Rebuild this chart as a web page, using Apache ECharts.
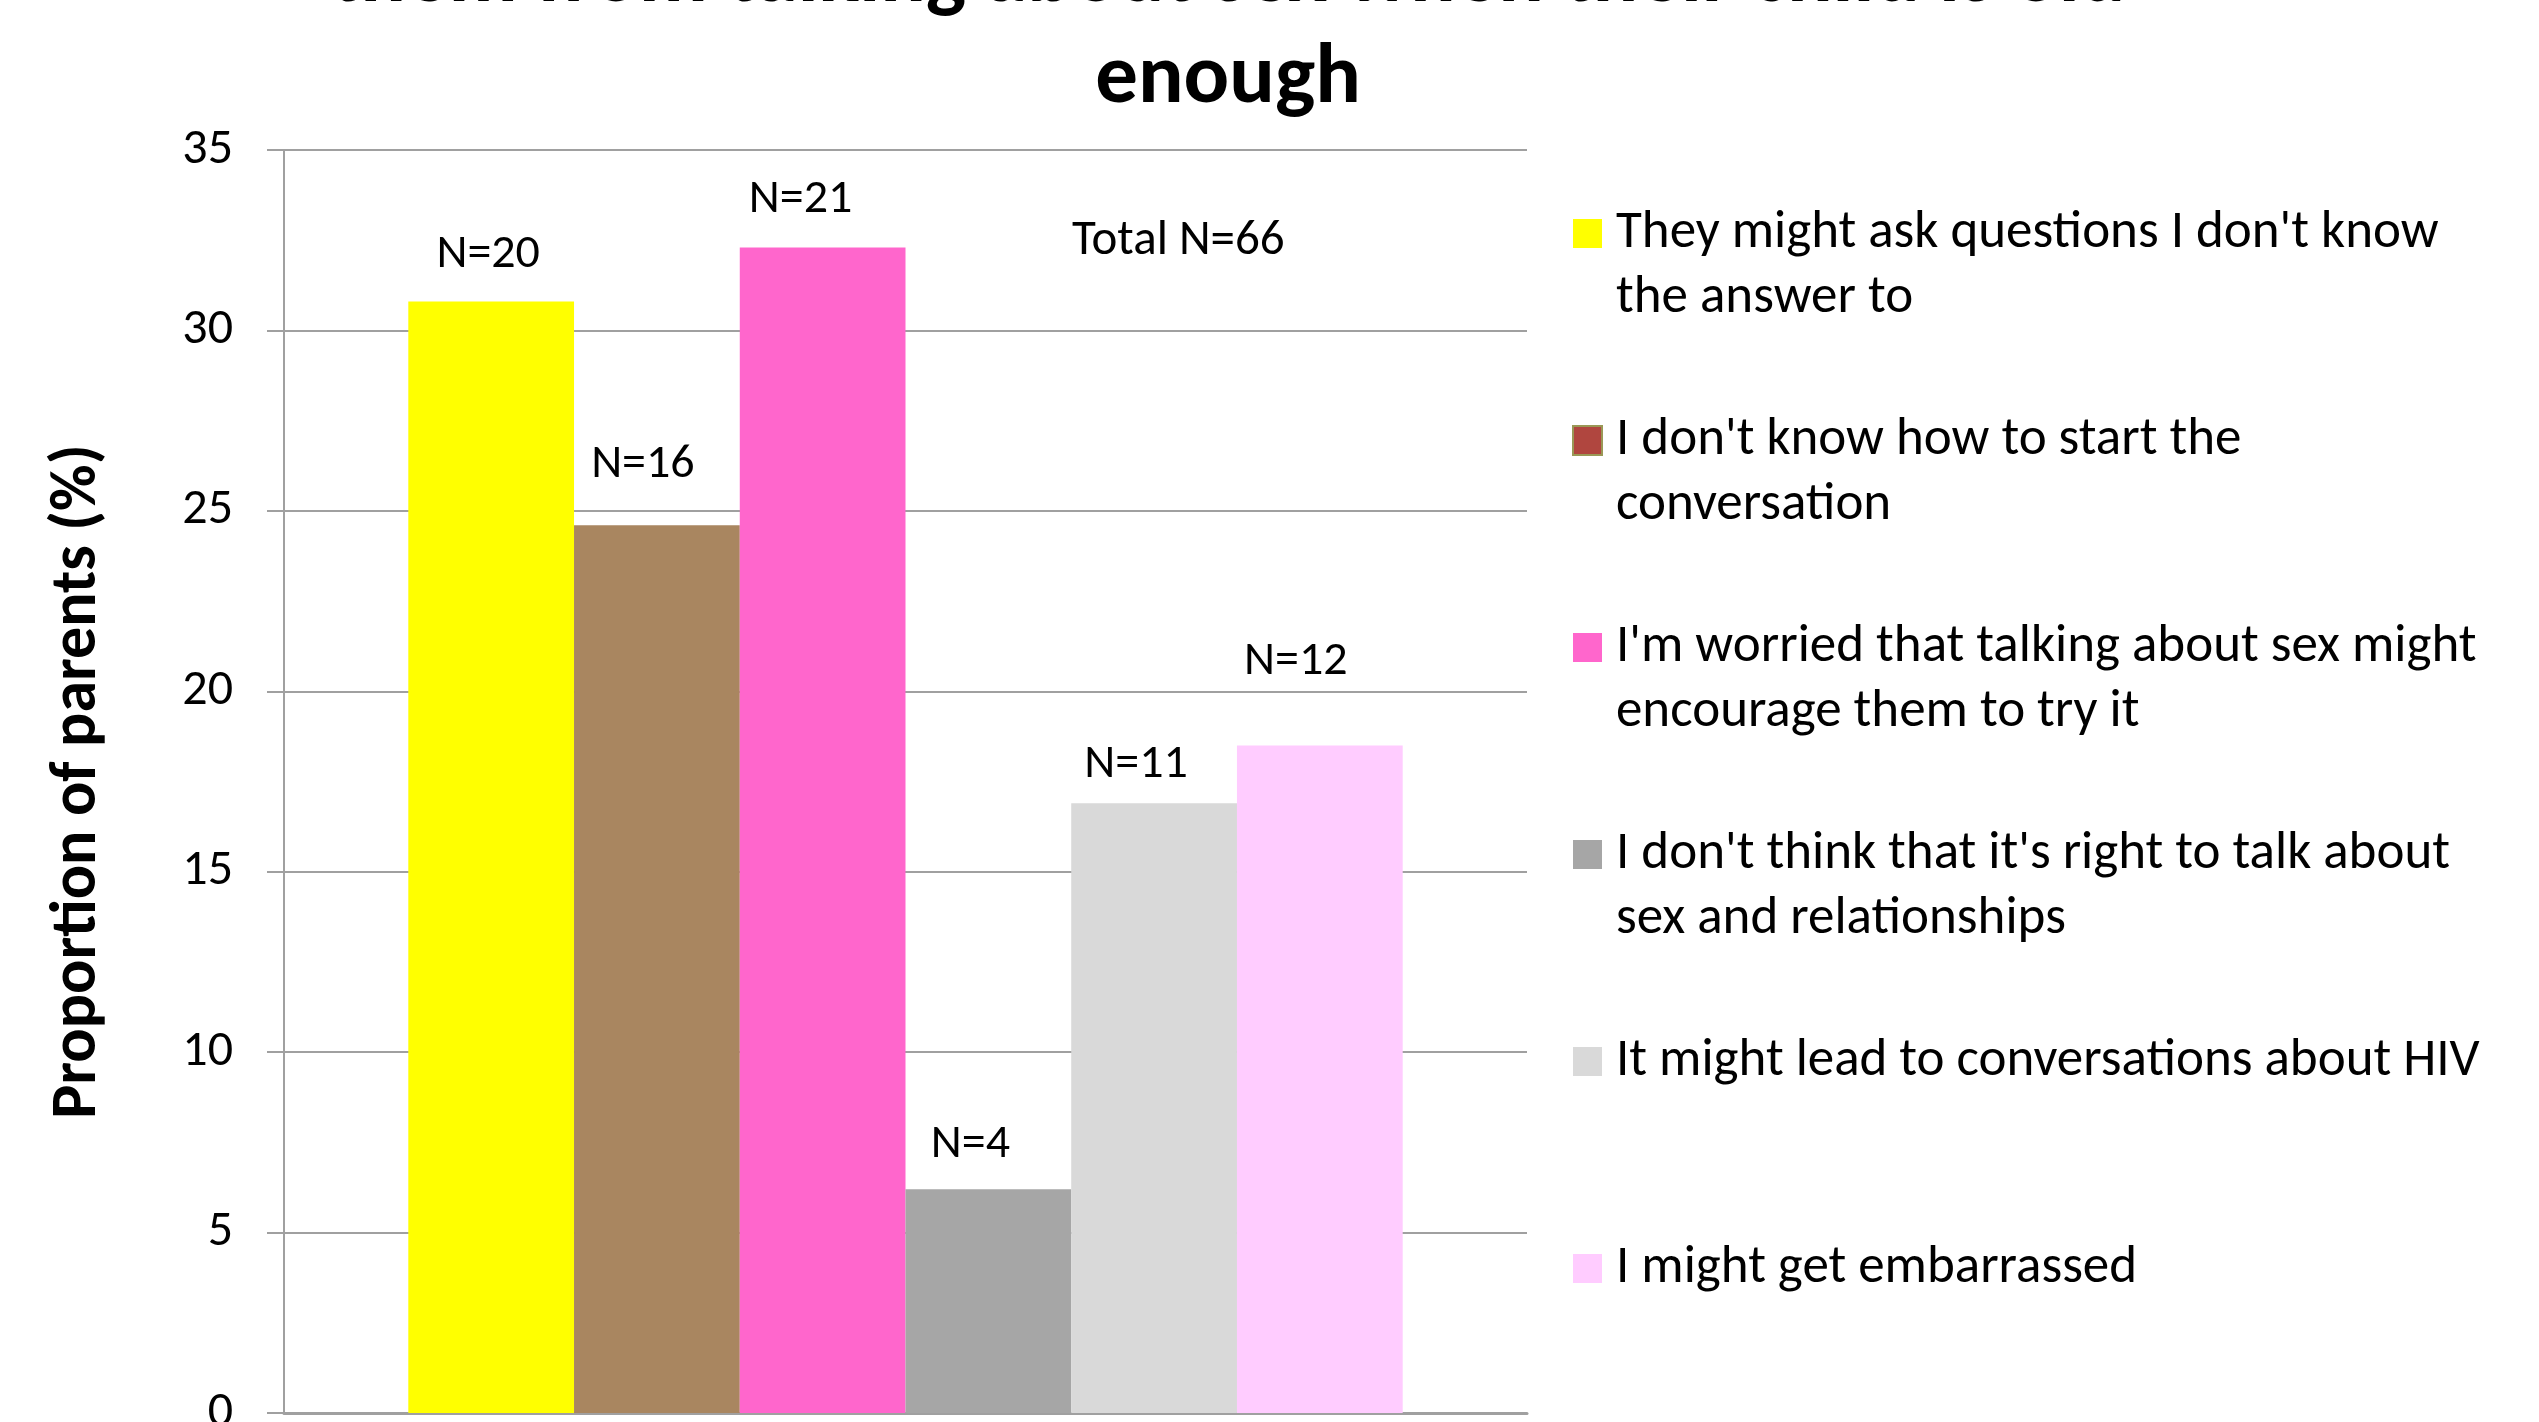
<!DOCTYPE html>
<html><head><meta charset="utf-8">
<script src="https://cdn.jsdelivr.net/npm/echarts@6.0.0/dist/echarts.min.js"></script>
<style>html,body{margin:0;padding:0;background:#fff}#chart{width:2539px;height:1422px}</style>
</head><body><div id="chart"></div>
<script>
// ---- data ----
const titleLines = ['them from talking about sex when their child is old', 'enough'];
const yAxisTitle = 'Proportion of parents (%)';
const reasons = [
  "They might ask questions I don't know\nthe answer to",
  "I don't know how to start the\nconversation",
  "I'm worried that talking about sex might\nencourage them to try it",
  "I don't think that it's right to talk about\nsex and relationships",
  "It might lead to conversations about HIV",
  "I might get embarrassed"
];
const proportions = [30.8, 24.6, 32.3, 6.2, 16.9, 18.5];
const counts = [20, 16, 21, 4, 11, 12];
const totalN = 66;
const yMin = 0, yMax = 35, yStep = 5;

// ---- styles ----
const FONT = "Carlito, Lato, 'Noto Sans', sans-serif";
const barColors = ['#FFFF00', '#A98660', '#FF66CC', '#A6A6A6', '#D9D9D9', '#FFCCFF'];
const legendIconStyles = [null, {color: '#B0463F', borderColor: '#9A9856', borderWidth: 2}, null, null, null, null];
const labelTweaks = [
  {dx: -3, dist: 23}, {dx: -14, dist: 36}, {dx: -22, dist: 23},
  {dx: -18, dist: 20}, {dx: -18, dist: 14}, {dx: -24, dist: 59}
];
const LEG_LINE = 65;

const chart = echarts.init(document.getElementById('chart'), null, {renderer: 'canvas'});

const series = reasons.map((name, i) => ({
  name: name,
  type: 'bar',
  barGap: '0%',
  barCategoryGap: '20%',
  data: [proportions[i]],
  itemStyle: {color: barColors[i]},
  label: {
    show: true,
    position: 'top',
    distance: labelTweaks[i].dist,
    offset: [labelTweaks[i].dx, 0],
    formatter: () => 'N=' + counts[i],
    fontFamily: FONT,
    fontSize: 48,
    color: '#000'
  },
  emphasis: {disabled: true}
}));

const legendData = reasons.map((name, i) => {
  const item = {name: name};
  if (legendIconStyles[i]) item.itemStyle = legendIconStyles[i];
  return item;
});

chart.setOption({
  animation: false,
  backgroundColor: '#fff',
  title: {
    text: titleLines.join('\n'),
    left: 1228,
    top: -71,
    padding: 0,
    textAlign: 'center',
    textStyle: {fontFamily: FONT, fontSize: 85, fontWeight: 'bold', color: '#000', lineHeight: 101}
  },
  grid: {left: 284, right: 1012, top: 150, bottom: 9, outerBoundsMode: 'none', containLabel: false},
  legend: {
    orient: 'vertical',
    left: 1572,
    top: 136,
    padding: 0,
    itemGap: 12,
    itemWidth: 29,
    itemHeight: 29,
    icon: 'rect',
    selectedMode: false,
    data: legendData,
    // keep the colour box level with the first text line: pad each entry to 3 lines, first line in the middle
    formatter: name => {
      const lines = name.split('\n');
      return lines.length > 1 ? '\n' + lines.join('\n') : '\n' + lines[0] + '\n';
    },
    textStyle: {fontFamily: FONT, fontSize: 53, color: '#000', lineHeight: LEG_LINE, padding: [0, 0, 0, 9]}
  },
  xAxis: {
    type: 'category',
    data: [''],
    axisLine: {show: true, lineStyle: {color: '#A0A0A0', width: 3}},
    axisTick: {show: false},
    axisLabel: {show: false},
    splitLine: {show: false}
  },
  yAxis: {
    type: 'value',
    min: yMin, max: yMax, interval: yStep,
    name: yAxisTitle,
    nameLocation: 'middle',
    nameRotate: 90,
    nameGap: 173,
    nameTextStyle: {fontFamily: FONT, fontSize: 64, fontWeight: 'bold', color: '#000'},
    axisLine: {show: true, lineStyle: {color: '#A0A0A0', width: 2}},
    axisTick: {show: true, inside: false, length: 17, lineStyle: {color: '#A0A0A0', width: 2}},
    axisLabel: {fontFamily: FONT, fontSize: 50, color: '#000', margin: 51},
    splitLine: {show: true, lineStyle: {color: '#A0A0A0', width: 2}}
  },
  graphic: [{
    type: 'text',
    left: 1072,
    top: 217,
    style: {text: 'Total N=' + totalN, fontFamily: FONT, fontSize: 49, fill: '#000'}
  }],
  series: series
});
</script>
</body></html>
